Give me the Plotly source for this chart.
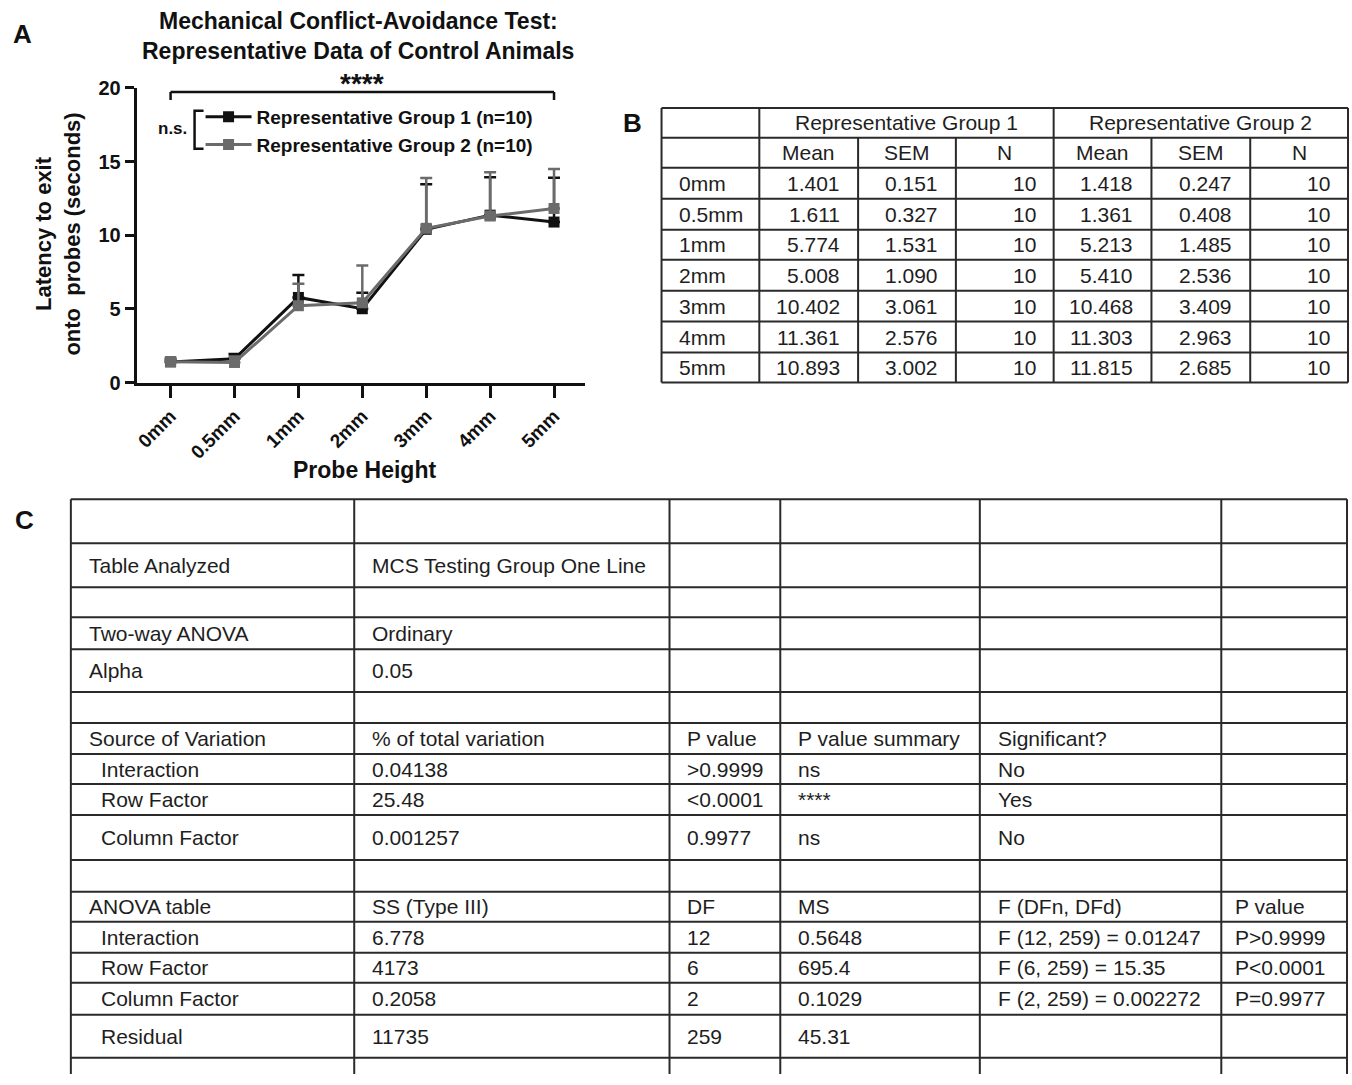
import plotly.graph_objects as go

W, H = 1352, 1085
# measured mapping between page pixels and the photographed picture (vertical only)
PHOTO_DY, PHOTO_SY = 10.0, 0.981
FONT = "Liberation Sans, Arial, Helvetica, sans-serif"
INK = "#111111"
GRAY = "#6b6b6b"
TXT = "#1e1e1e"
GRID = "#2a2a2a"

# ---------------- data ----------------
categories = ["0mm", "0.5mm", "1mm", "2mm", "3mm", "4mm", "5mm"]
g1_mean = [1.401, 1.611, 5.774, 5.008, 10.402, 11.361, 10.893]
g1_sem = [0.151, 0.327, 1.531, 1.090, 3.061, 2.576, 3.002]
g1_n = [10, 10, 10, 10, 10, 10, 10]
g2_mean = [1.418, 1.361, 5.213, 5.410, 10.468, 11.303, 11.815]
g2_sem = [0.247, 0.408, 1.485, 2.536, 3.409, 2.963, 2.685]
g2_n = [10, 10, 10, 10, 10, 10, 10]
group_names = ["Representative Group 1 (n=10)", "Representative Group 2 (n=10)"]
table_b_groups = ["Representative Group 1", "Representative Group 2"]
table_b_stats = ["Mean", "SEM", "N"]
y_ticks = [0, 5, 10, 15, 20]

chart_title = ["Mechanical Conflict-Avoidance Test:", "Representative Data of Control Animals"]
y_title = "Latency to exit<br>onto  probes (seconds)"
x_title = "Probe Height"
sig_overall = "****"
sig_groups = "n.s."

table_c_rows = [
    ["", "", "", "", "", ""],
    ["Table Analyzed", "MCS Testing Group One Line", "", "", "", ""],
    ["", "", "", "", "", ""],
    ["Two-way ANOVA", "Ordinary", "", "", "", ""],
    ["Alpha", "0.05", "", "", "", ""],
    ["", "", "", "", "", ""],
    ["Source of Variation", "% of total variation", "P value", "P value summary", "Significant?", ""],
    ["  Interaction", "0.04138", ">0.9999", "ns", "No", ""],
    ["  Row Factor", "25.48", "<0.0001", "****", "Yes", ""],
    ["  Column Factor", "0.001257", "0.9977", "ns", "No", ""],
    ["", "", "", "", "", ""],
    ["ANOVA table", "SS (Type III)", "DF", "MS", "F (DFn, DFd)", "P value"],
    ["  Interaction", "6.778", "12", "0.5648", "F (12, 259) = 0.01247", "P>0.9999"],
    ["  Row Factor", "4173", "6", "695.4", "F (6, 259) = 15.35", "P<0.0001"],
    ["  Column Factor", "0.2058", "2", "0.1029", "F (2, 259) = 0.002272", "P=0.9977"],
    ["  Residual", "11735", "259", "45.31", "", ""],
    ["", "", "", "", "", ""],
]

# ---------------- layout geometry (picture pixels) ----------------
def px(x):
    return min(1.0, max(0.0, x / W))

def py(y):
    page_y = (y - PHOTO_DY) / PHOTO_SY
    return min(1.0, max(0.0, 1 - page_y / H))

PIC_BOTTOM = PHOTO_DY + PHOTO_SY * H

B_COL_W = [98, 99, 98, 98, 98, 99, 98]
B_ROW_H = [30, 30, 31, 31, 30, 31, 31, 31, 30]
C_COL_W = [284, 316, 111, 200, 242, 126]
C_ROW_H = [44, 44, 30, 32, 43, 31, 31, 30, 31, 45, 32, 30, 31, 30, 32, 43, 40]


def edges(sizes):
    out = [0]
    for s in sizes:
        out.append(out[-1] + s)
    return out


fig = go.Figure()

# ---------------- panel A: line chart ----------------
for name, mean, sem, col in [(group_names[0], g1_mean, g1_sem, INK),
                             (group_names[1], g2_mean, g2_sem, GRAY)]:
    fig.add_trace(go.Scatter(
        x=categories, y=mean, name=name, mode="lines+markers",
        line=dict(color=col, width=3),
        marker=dict(symbol="square", size=11, color=col),
        error_y=dict(type="data", symmetric=False, array=sem,
                     arrayminus=[0] * len(sem), color=col, thickness=2.5, width=6),
        xaxis="x", yaxis="y", cliponaxis=False,
    ))

annotations = []
shapes = []

# titles
for i, line in enumerate(chart_title):
    annotations.append(dict(text=line, x=px(356), y=py(20 + 30 * i), xref="paper", yref="paper",
                            showarrow=False, xanchor="center", yanchor="middle",
                            font=dict(family=FONT, size=23, color=INK, weight="bold")))
annotations.append(dict(text=y_title, x=px(55), y=py(233), xref="paper", yref="paper",
                        showarrow=False, textangle=-90, xanchor="center", yanchor="middle",
                        font=dict(family=FONT, size=22, color=INK, weight="bold")))
annotations.append(dict(text=x_title, x=px(362), y=py(470), xref="paper", yref="paper",
                        showarrow=False, xanchor="center", yanchor="middle",
                        font=dict(family=FONT, size=23, color=INK, weight="bold")))
for letter, lx, ly in [("A", 20, 33), ("B", 631, 122), ("C", 22, 520)]:
    annotations.append(dict(text=letter, x=px(lx), y=py(ly), xref="paper", yref="paper",
                            showarrow=False, xanchor="center", yanchor="middle",
                            font=dict(family=FONT, size=26, color=INK, weight="bold")))

# overall significance bracket spanning first to last category
first, last = 0, len(categories) - 1
shapes.append(dict(type="line", xref="x", yref="paper", x0=first, x1=last, y0=py(91), y1=py(91),
                   line=dict(color=INK, width=2.5)))
for xc in (first, last):
    shapes.append(dict(type="line", xref="x", yref="paper", x0=xc, x1=xc, y0=py(91), y1=py(99),
                       line=dict(color=INK, width=2.5)))
annotations.append(dict(text=sig_overall, x=(first + last) / 2, y=py(83), xref="x", yref="paper",
                        showarrow=False, xanchor="center", yanchor="middle",
                        font=dict(family=FONT, size=28, color=INK, weight="bold")))

# n.s. bracket beside the legend
shapes.append(dict(type="path", xref="paper", yref="paper",
                   path=f"M {px(201)},{py(110)} L {px(192)},{py(110)} L {px(192)},{py(148)} L {px(201)},{py(148)}",
                   line=dict(color=INK, width=2.5)))
annotations.append(dict(text=sig_groups, x=px(170), y=py(128), xref="paper", yref="paper",
                        showarrow=False, xanchor="center", yanchor="middle",
                        font=dict(family=FONT, size=17, color=INK, weight="bold")))

# ---------------- panel B: summary table ----------------
bx, by = edges(B_COL_W), edges(B_ROW_H)
for j, yv in enumerate(by):
    shapes.append(dict(type="line", xref="x2", yref="y2", x0=bx[0], x1=bx[-1], y0=yv, y1=yv,
                       line=dict(color=GRID, width=2)))
for i, xv in enumerate(bx):
    top = by[0] if i in (0, 1, 4, 7) else by[1]
    shapes.append(dict(type="line", xref="x2", yref="y2", x0=xv, x1=xv, y0=top, y1=by[-1],
                       line=dict(color=GRID, width=2)))

tfont = dict(family=FONT, size=21, color=TXT)


def cell_text(text, xr, yr, x, y, anchor):
    annotations.append(dict(text=text, x=x, y=y, xref=xr, yref=yr, showarrow=False,
                            xanchor=anchor, yanchor="middle", font=tfont))


for gi, gname in enumerate(table_b_groups):
    c0 = 1 + 3 * gi
    cell_text(gname, "x2", "y2", (bx[c0] + bx[c0 + 3]) / 2, (by[0] + by[1]) / 2, "center")
    for si, sname in enumerate(table_b_stats):
        c = c0 + si
        cell_text(sname, "x2", "y2", (bx[c] + bx[c + 1]) / 2, (by[1] + by[2]) / 2, "center")

for r, cat in enumerate(categories):
    yc = (by[r + 2] + by[r + 3]) / 2
    cell_text(cat, "x2", "y2", bx[0] + 16, yc, "left")
    vals = [f"{g1_mean[r]:.3f}", f"{g1_sem[r]:.3f}", str(g1_n[r]),
            f"{g2_mean[r]:.3f}", f"{g2_sem[r]:.3f}", str(g2_n[r])]
    for k, v in enumerate(vals):
        cell_text(v, "x2", "y2", bx[k + 2] - 16, yc, "right")

# ---------------- panel C: ANOVA table ----------------
cx, cy = edges(C_COL_W), edges(C_ROW_H)
for yv in cy:
    shapes.append(dict(type="line", xref="x3", yref="y3", x0=cx[0], x1=cx[-1], y0=yv, y1=yv,
                       line=dict(color=GRID, width=2)))
for xv in cx:
    shapes.append(dict(type="line", xref="x3", yref="y3", x0=xv, x1=xv, y0=cy[0], y1=cy[-1],
                       line=dict(color=GRID, width=2)))
for r, row in enumerate(table_c_rows):
    yc = (cy[r] + cy[r + 1]) / 2
    for c, txt in enumerate(row):
        if not txt:
            continue
        pad = 16 if c < 5 else 12
        if txt.startswith("  "):
            pad += 12
        cell_text(txt.strip(), "x3", "y3", cx[c] + pad, yc, "left")

B_LEFT, B_TOP = 660, 107
C_LEFT, C_TOP = 68, 499
axis_common = dict(showgrid=False, zeroline=False)
fig.update_layout(
    width=W, height=H,
    margin=dict(l=0, r=0, t=0, b=0),
    paper_bgcolor="white", plot_bgcolor="rgba(0,0,0,0)",
    font=dict(family=FONT, color=INK),
    showlegend=True,
    legend=dict(x=px(198), y=py(97), xanchor="left", yanchor="top",
                font=dict(family=FONT, size=19, color=INK, weight="bold"),
                bgcolor="rgba(0,0,0,0)", borderwidth=0, itemwidth=46,
                tracegroupgap=0),
    xaxis=dict(domain=[px(134), px(583)], type="category", categoryorder="array",
               categoryarray=categories, range=[-0.53, 6.48], anchor="y",
               showline=True, linewidth=3, linecolor=INK,
               ticks="outside", ticklen=12, tickwidth=3, tickcolor=INK, tickangle=-45,
               tickfont=dict(family=FONT, size=19, color=INK, weight="bold"), **axis_common),
    yaxis=dict(domain=[py(382), py(87)], range=[0, 20], tickvals=y_ticks, anchor="x",
               showline=True, linewidth=3, linecolor=INK,
               ticks="outside", ticklen=9, tickwidth=3, tickcolor=INK,
               tickfont=dict(family=FONT, size=20, color=INK, weight="bold"), **axis_common),
    xaxis2=dict(domain=[px(B_LEFT - 2), px(B_LEFT + sum(B_COL_W) + 3)],
                range=[-2, sum(B_COL_W) + 3], anchor="y2",
                visible=False, fixedrange=True, **axis_common),
    yaxis2=dict(domain=[py(B_TOP + sum(B_ROW_H) + 3), py(B_TOP - 2)],
                range=[sum(B_ROW_H) + 3, -2], anchor="x2",
                visible=False, fixedrange=True, **axis_common),
    xaxis3=dict(domain=[px(C_LEFT - 2), px(C_LEFT + sum(C_COL_W) + 3)],
                range=[-2, sum(C_COL_W) + 3], anchor="y3",
                visible=False, fixedrange=True, **axis_common),
    yaxis3=dict(domain=[0, py(C_TOP - 2)], range=[PIC_BOTTOM - C_TOP, -2], anchor="x3",
                visible=False, fixedrange=True, **axis_common),
    annotations=annotations,
    shapes=shapes,
)

fig.write_html("out.html", config={"displayModeBar": False},
               post_script="document.body.style.margin='0';document.body.style.overflow='hidden';")
